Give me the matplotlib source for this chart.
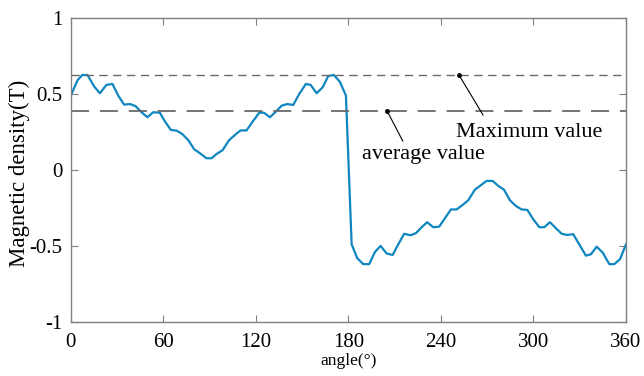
import matplotlib
matplotlib.use("Agg")
import matplotlib.pyplot as plt

# angle (deg) and flux density (T)
angle = [0, 4.3, 7.4, 10.8, 15.1, 18.8, 23.1, 27, 30.7, 34.6, 38.3, 42, 45.8,
         49.7, 53.4, 57.7, 61, 64.9, 68.6, 72.2, 76.1, 80, 83.7, 88, 91.3,
         94.5, 98.4, 102.7, 106.4, 110, 113.9, 117.9, 122.2, 125.2, 129.1,
         133, 136.7, 140.3, 144.2, 148.1, 152.4, 155.5, 159.4, 163.3, 166.9,
         170.6, 174.5, 178.4, 182.1, 185.7, 189.6, 193.5, 197.2, 200.9, 204.8,
         208.7, 212.3, 216.2, 220.3, 223.8, 227.5, 231.1, 235, 238.9, 242.6,
         246.5, 250.2, 254.1, 257.7, 262, 265.3, 269.6, 273.5, 277.2, 280.9,
         284.8, 288.6, 292.3, 296, 299.9, 303.8, 307, 310.7, 314.6, 318.3,
         321.9, 325.8, 329.7, 334, 337.3, 341, 344.9, 349.2, 352.4, 356.1, 360]
flux = [0.49, 0.59, 0.625, 0.625, 0.55, 0.505, 0.56, 0.566, 0.49, 0.43, 0.434,
        0.42, 0.38, 0.347, 0.38, 0.377, 0.32, 0.263, 0.259, 0.237, 0.197,
        0.136, 0.11, 0.077, 0.077, 0.105, 0.13, 0.197, 0.23, 0.26, 0.26,
        0.318, 0.377, 0.377, 0.347, 0.384, 0.423, 0.434, 0.428, 0.5, 0.566,
        0.56, 0.505, 0.544, 0.618, 0.625, 0.58, 0.49, -0.49, -0.58, -0.62,
        -0.62, -0.54, -0.5, -0.55, -0.56, -0.49, -0.42, -0.43, -0.416,
        -0.377, -0.344, -0.377, -0.373, -0.318, -0.26, -0.26, -0.23, -0.2,
        -0.13, -0.105, -0.072, -0.072, -0.105, -0.13, -0.2, -0.237, -0.26,
        -0.263, -0.325, -0.377, -0.377, -0.344, -0.384, -0.42, -0.428,
        -0.423, -0.49, -0.564, -0.555, -0.505, -0.544, -0.62, -0.62, -0.588,
        -0.49]

max_val = 0.625
avg_val = 0.39
xticks = [0, 60, 120, 180, 240, 300, 360]
yticks = [-1, -0.5, 0, 0.5, 1]
ylabels = ["-1", "-0.5", "0", "0.5", "1"]

plt.rcParams["font.family"] = ["Liberation Serif", "DejaVu Serif"]

fig = plt.figure(figsize=(6.44, 3.76), dpi=100)
ax = fig.add_axes([0.110, 0.144, 0.862, 0.808])

ax.plot(angle, flux, color="#0f86c0", lw=1.6)
ax.axhline(max_val, color="#6a6a6a", lw=1.0, dashes=(6, 4))
ax.axhline(avg_val, color="#6a6a6a", lw=1.3, dashes=(10, 6))

# annotations: dot on the line, leader, label
ax.plot([251.7], [max_val], "o", color="black", ms=2.5)
ax.plot([251.7, 267.3], [max_val, 0.362], color="black", lw=0.8)
ax.text(249.7, 0.215, "Maximum value", fontsize=16, ha="left", va="baseline")

ax.plot([205], [avg_val], "o", color="black", ms=2.5)
ax.plot([205, 215.3], [avg_val, 0.19], color="black", lw=0.8)
ax.text(188.6, 0.072, "average value", fontsize=16, ha="left", va="baseline")

ax.set_xlim(0, 360)
ax.set_ylim(-1, 1)
ax.set_xticks(xticks)
ax.set_yticks(yticks)
ax.set_yticklabels(ylabels)
ax.tick_params(direction="in", length=5, width=0.8, color="#808080",
               labelsize=15, top=True, right=True)
ax.tick_params(axis="x", pad=8)
ax.tick_params(axis="y", pad=6)
for s in ax.spines.values():
    s.set_color("#808080")
    s.set_linewidth(1.0)

ax.set_xlabel("angle(°)", fontsize=12.5, labelpad=1)
ax.set_ylabel("Magnetic density(T)", fontsize=16.5)
ax.yaxis.set_label_coords(-0.073, 0.49)

fig.savefig("out.png", dpi=100)
